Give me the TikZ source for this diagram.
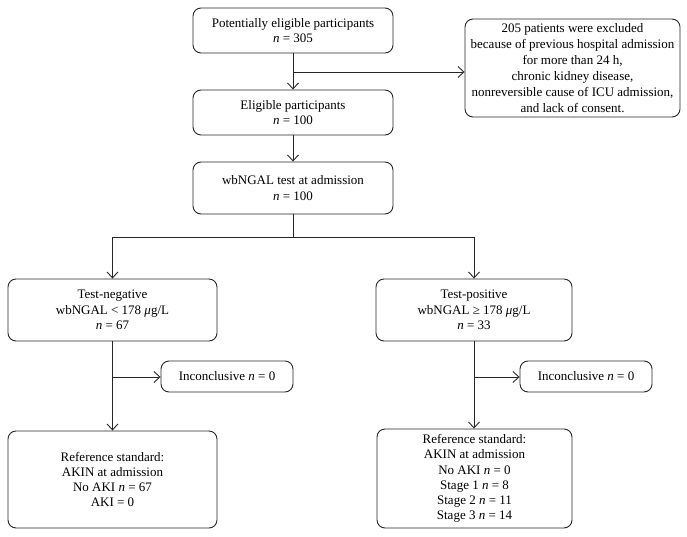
\documentclass[tikz,border=0pt]{standalone}
\usepackage{fontspec}
\setmainfont{Liberation Serif}
\usetikzlibrary{arrows.meta}
\begin{document}
\begin{tikzpicture}[x=1pt,y=-1pt,
  box/.style={draw=black!85,line width=0.9pt,rounded corners=8pt,align=center,inner sep=0pt,
    font=\fontsize{13}{15.3}\selectfont},
  conn/.style={draw=black!85,line width=0.9pt},
  arr/.style={conn,-{Straight Barb[length=6pt,width=11pt,line width=0.9pt]}}]
\useasboundingbox (0,0) rectangle (687,537);
\node[box,minimum width=200pt,minimum height=45pt] (pot) at (293,30.5) {Potentially eligible participants\\\textit{n} = 305};
\node[box,minimum width=215pt,minimum height=98pt,font=\fontsize{13}{16}\selectfont] (excl) at (572.5,68) {205 patients were excluded\\because of previous hospital admission\\for more than 24 h,\\chronic kidney disease,\\nonreversible cause of ICU admission,\\and lack of consent.};
\node[box,minimum width=200pt,minimum height=45pt] (elig) at (293,112.5) {Eligible participants\\\textit{n} = 100};
\node[box,minimum width=200pt,minimum height=52pt] (test) at (293,188) {wbNGAL test at admission\\\textit{n} = 100};
\node[box,minimum width=209pt,minimum height=62pt] (neg) at (112.5,310) {Test-negative\\wbNGAL < 178 \textit{μ}g/L\\\textit{n} = 67};
\node[box,minimum width=196pt,minimum height=62pt] (pos) at (474,310) {Test-positive\\wbNGAL ≥ 178 \textit{μ}g/L\\\textit{n} = 33};
\node[box,minimum width=132pt,minimum height=31pt] (inc1) at (227,376.5) {Inconclusive \textit{n} = 0};
\node[box,minimum width=132pt,minimum height=31pt] (inc2) at (586,376.5) {Inconclusive \textit{n} = 0};
\node[box,minimum width=209pt,minimum height=97pt] (refneg) at (112.5,479.5) {Reference standard:\\AKIN at admission\\No AKI \textit{n} = 67\\AKI = 0};
\node[box,minimum width=195pt,minimum height=99pt] (refpos) at (474.5,478.5) {Reference standard:\\AKIN at admission\\No AKI \textit{n} = 0\\Stage 1 \textit{n} = 8\\Stage 2 \textit{n} = 11\\Stage 3 \textit{n} = 14};
\coordinate (j1) at (293,72);
\coordinate (j2) at (293,237);
\coordinate (j3) at (112.5,377);
\coordinate (j4) at (474,377);
\draw[arr] (pot.south) -- (elig.north);
\draw[arr] (j1) -- (excl.west |- j1);
\draw[arr] (elig.south) -- (test.north);
\draw[conn] (test.south) -- (j2);
\draw[arr] (j2) -| (neg.north);
\draw[arr] (j2) -| (pos.north);
\draw[arr] (neg.south) -- (refneg.north);
\draw[arr] (j3) -- (inc1.west |- j3);
\draw[arr] (pos.south) -- (refpos.north -| pos.south);
\draw[arr] (j4) -- (inc2.west |- j4);
\end{tikzpicture}
\end{document}
